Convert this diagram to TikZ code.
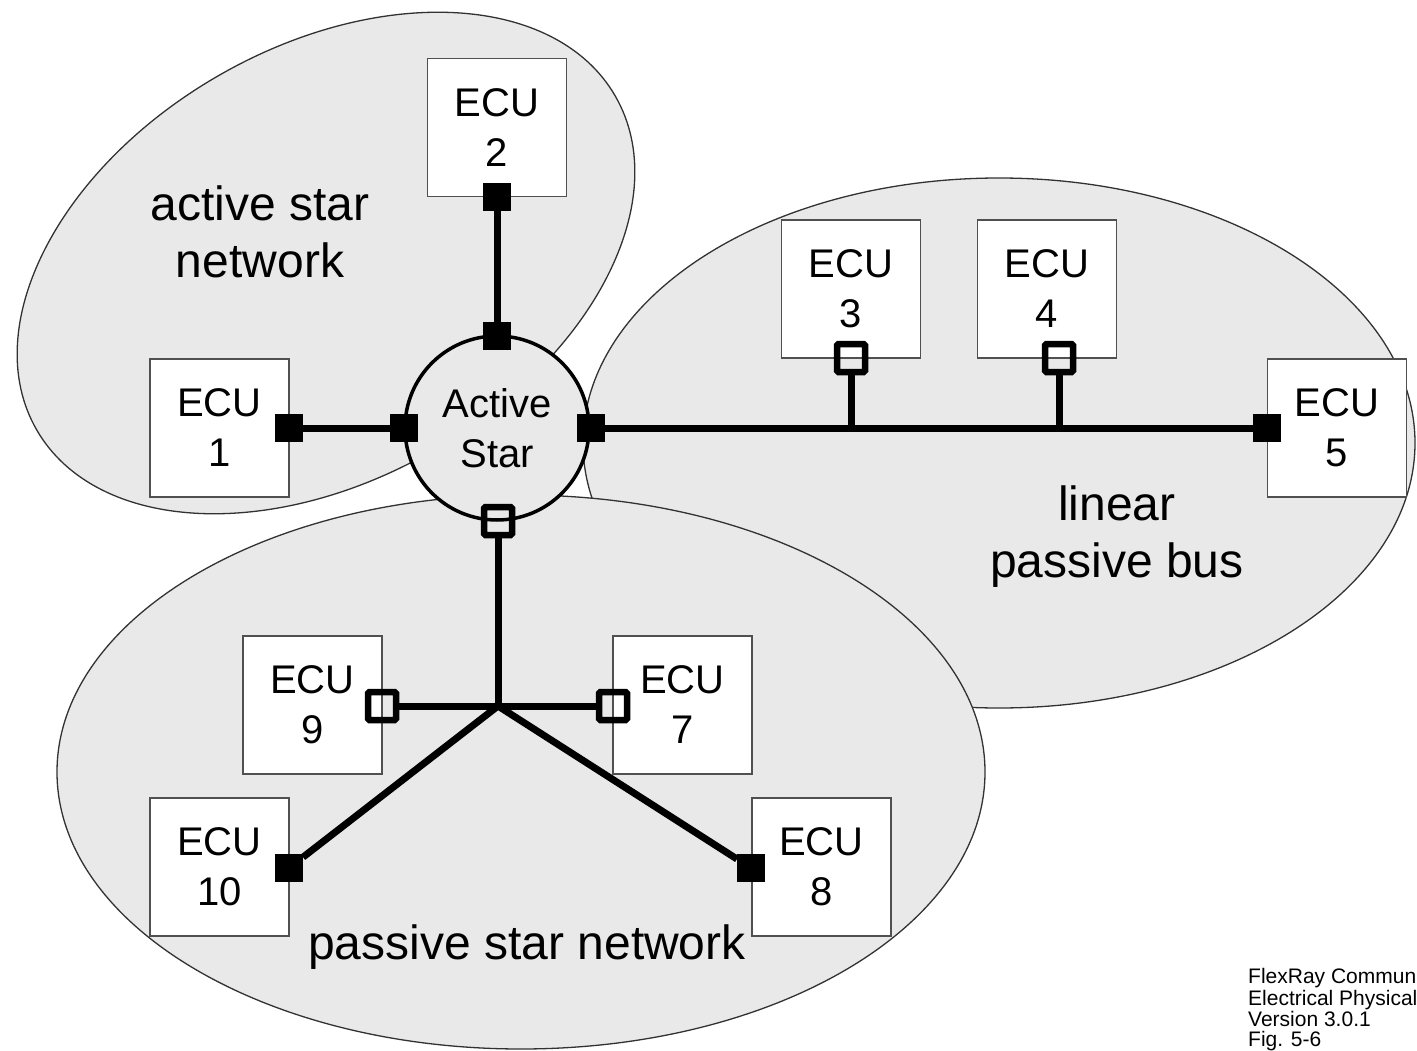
\documentclass[tikz,border=0pt]{standalone}
\usepackage{fontspec}
\setmainfont{Liberation Sans}
\definecolor{ellfill}{RGB}{233,233,233}
\definecolor{ellline}{RGB}{50,50,50}
\definecolor{boxline}{RGB}{80,80,80}
\tikzset{
  region/.style={fill=ellfill, draw=ellline, line width=1.3pt},
  ecu/.style={draw=boxline, fill=white, line width=1.5pt, minimum width=139pt, minimum height=138pt,
    inner sep=0pt, align=center, font=\fontsize{40}{50}\selectfont},
  fsq/.style={fill=black, draw=none, minimum size=28pt, inner sep=0pt, outer sep=0pt},
  hsq/.style={draw=black, fill=none, line width=6.5pt, minimum size=28pt, inner sep=0pt, rounded corners=1.5pt},
  wire/.style={line width=7pt, black},
  lbl/.style={align=center, font=\fontsize{48}{57}\selectfont, inner sep=0pt},
  note/.style={anchor=base west, font=\fontsize{21}{21}\selectfont, inner sep=0pt}
}
\begin{document}
\begin{tikzpicture}[x=1pt,y=-1pt]
\useasboundingbox (0,0) rectangle (1417,1051);
% regions
\draw[region, rotate around={30:(326,263)}] (326,263) ellipse [x radius=334, y radius=216];
\draw[region] (999,443) ellipse [x radius=416, y radius=265];
\draw[region] (521,772) ellipse [x radius=464, y radius=277];
% labels
\node[lbl] (lab1) at (260,232) {active star\\network};
\node[lbl] (lab2) at (1117,537) {linear\\passive bus};
\node[lbl] (lab3) at (527,947) {passive star network};
% ECU boxes
\node[ecu] (e1) at (219.5,428) {ECU\\1};
\node[ecu] (e2) at (497,127.5) {ECU\\2};
\node[ecu] (e3) at (851,289) {ECU\\3};
\node[ecu] (e4) at (1047,289) {ECU\\4};
\node[ecu] (e5) at (1337,428) {ECU\\5};
\node[ecu] (e9) at (312.5,705) {ECU\\9};
\node[ecu] (e7) at (682.5,705) {ECU\\7};
\node[ecu] (e10) at (219.5,867) {ECU\\10};
\node[ecu] (e8) at (821.5,867) {ECU\\8};
% active star
\node[circle, draw=black, fill=ellfill, line width=3.5pt, minimum size=184pt, inner sep=0pt,
      align=center, font=\fontsize{40}{50}\selectfont] (as) at (497,428) {Active\\Star};
% connector squares
\node[fsq] (e1s) at (289,428) {};
\node[fsq] (clft) at (404,428) {};
\node[fsq] (crgt) at (591,428) {};
\node[fsq] (ctop) at (497,336) {};
\node[fsq] (e2s) at (497,197) {};
\node[fsq] (e5s) at (1267,428) {};
\node[fsq] (e10s) at (289,868) {};
\node[fsq] (e8s) at (751,868) {};
\node[hsq] (cbot) at (498,521) {};
\node[hsq] (e3s) at (851,358) {};
\node[hsq] (e4s) at (1059,358) {};
\node[hsq] (e9s) at (382,706) {};
\node[hsq] (e7s) at (613,706) {};
\coordinate (hub) at (498,706);
% wires
\draw[wire] (e2s) -- (ctop);
\draw[wire] (e1s) -- (clft);
\draw[wire] (crgt) -- (e5s);
\draw[wire] (e3s.south) -- (e3s |- crgt);
\draw[wire] (e4s.south) -- (e4s |- crgt);
\draw[wire] (cbot.south) -- (hub);
\draw[wire] (e9s.east) -- (e7s.west);
\draw[wire] (hub) -- (e10s);
\draw[wire] (hub) -- (e8s);
% note
\node[note] (n1) at (1248,983) {FlexRay Commun};
\node[note] (n2) at (1248,1005) {Electrical Physical};
\node[note] (n3) at (1248,1026) {Version 3.0.1};
\node[note] (n4) at (1248,1046) {Fig. 5-6};
\end{tikzpicture}
\end{document}
